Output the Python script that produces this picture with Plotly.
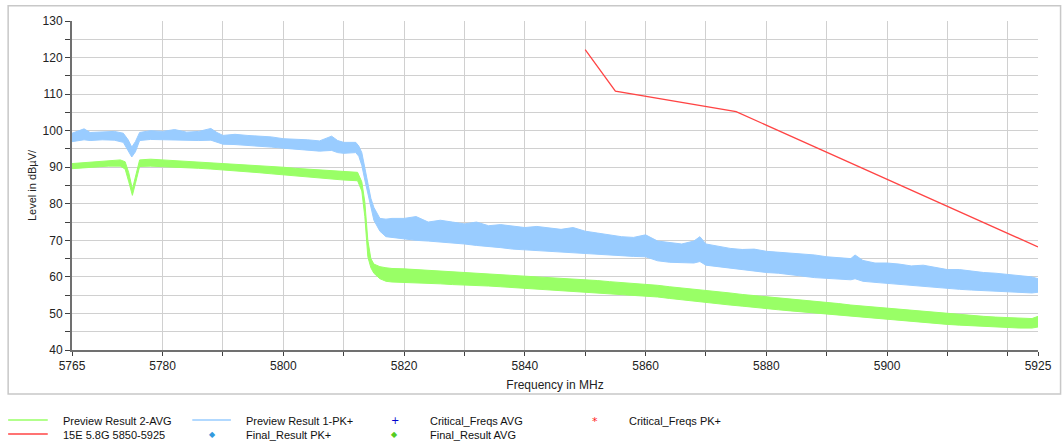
import plotly.graph_objects as go

# ---------------- data ----------------
# Preview Result 1-PK+ : envelope of the noisy peak trace (MHz, dBuV/m)
pk_freq = [5765, 5766, 5767, 5768, 5770, 5772, 5773.5, 5774.3, 5774.9, 5775.5, 5776.2,
           5778, 5780, 5782, 5784, 5786, 5788, 5789, 5790, 5792, 5794, 5796, 5798, 5800,
           5802, 5804, 5806, 5808, 5809, 5810, 5812, 5812.5, 5813, 5813.5, 5814, 5814.5,
           5815, 5816, 5817, 5818, 5820, 5822, 5824, 5826, 5828, 5830, 5832, 5834, 5836,
           5838, 5840, 5842, 5844, 5846, 5848, 5850, 5852, 5854, 5856, 5858, 5860, 5862,
           5864, 5866, 5868, 5869, 5870, 5872, 5874, 5876, 5878, 5880, 5882, 5884, 5886,
           5888, 5890, 5892, 5894, 5894.7, 5896, 5898, 5900, 5902, 5904, 5906, 5908, 5910,
           5912, 5914, 5916, 5918, 5920, 5922, 5924, 5925]
pk_high = [99.3, 99.8, 100.5, 99.5, 99.6, 99.8, 99.3, 97.5, 95.5, 97.0, 99.5,
           100.0, 99.8, 100.3, 99.6, 99.8, 100.6, 99.5, 98.7, 99.0, 98.7, 98.5, 98.3, 97.8,
           97.7, 97.5, 97.2, 98.5, 97.3, 96.8, 96.8, 95.8, 94.0, 89.5, 85.5, 81.5,
           79.0, 76.0, 75.8, 76.0, 76.0, 76.5, 75.0, 75.5, 75.0, 74.5, 75.0, 74.0, 74.3,
           73.8, 73.5, 73.8, 73.5, 73.0, 73.5, 72.5, 72.0, 71.5, 71.0, 70.8, 71.5, 69.8,
           69.5, 69.0, 69.8, 71.0, 69.0, 68.3, 67.8, 67.5, 67.6, 67.0, 66.8, 66.5, 66.2,
           66.0, 65.5, 65.2, 65.0, 66.0, 64.5, 63.8, 63.8, 63.5, 63.0, 63.2, 62.5, 62.0,
           62.0, 61.5, 61.2, 61.0, 60.6, 60.3, 60.0, 59.5]
pk_low = [97.0, 97.3, 97.5, 97.3, 97.5, 97.4, 96.8, 94.5, 92.8, 94.2, 97.3,
          97.6, 97.5, 97.6, 97.3, 97.3, 97.4, 96.8, 96.3, 96.2, 96.0, 95.9, 95.5, 95.2,
          95.0, 94.6, 94.4, 94.6, 94.0, 93.8, 94.0, 93.0, 90.5, 86.5, 82.5, 78.5,
          75.5, 72.5, 71.0, 70.8, 70.3, 70.0, 69.8, 69.6, 69.3, 69.0, 68.6, 68.4, 68.0,
          67.6, 67.4, 67.2, 66.8, 66.6, 66.6, 66.4, 66.2, 66.0, 65.8, 65.6, 65.5, 64.4,
          64.0, 63.9, 63.8, 64.2, 63.2, 62.8, 62.4, 62.0, 61.6, 61.2, 61.0, 60.6, 60.2,
          59.8, 59.6, 59.4, 59.2, 59.5, 58.8, 58.5, 58.2, 57.9, 57.6, 57.4, 57.2, 56.9,
          56.6, 56.4, 56.2, 56.0, 55.9, 55.8, 55.6, 55.8]

# Preview Result 2-AVG : envelope of the noisy average trace
av_freq = [5765, 5767, 5769, 5771, 5773, 5773.8, 5774.4, 5775.0, 5775.5, 5776.2,
           5778, 5780, 5782, 5784, 5786, 5788, 5790, 5792, 5794, 5796, 5798, 5800,
           5802, 5804, 5806, 5808, 5810, 5812.3, 5813, 5813.5, 5814, 5814.5, 5815,
           5816, 5817, 5818, 5820, 5822, 5824, 5826, 5828, 5830, 5832, 5834, 5836,
           5838, 5840, 5842, 5844, 5846, 5848, 5850, 5852, 5854, 5856, 5858, 5860,
           5862, 5864, 5866, 5868, 5870, 5872, 5874, 5876, 5878, 5880, 5882, 5884,
           5886, 5888, 5890, 5892, 5894, 5896, 5898, 5900, 5902, 5904, 5906, 5908,
           5910, 5912, 5914, 5916, 5918, 5920, 5922, 5924, 5925]
av_high = [91.0, 91.3, 91.6, 91.8, 92.0, 91.5, 88.5, 84.0, 87.5, 92.0,
           92.2, 92.0, 91.9, 91.7, 91.6, 91.4, 91.2, 91.0, 90.8, 90.5, 90.3, 90.0,
           89.7, 89.5, 89.2, 89.0, 88.8, 88.6, 86.0, 80.5, 70.0, 65.0, 63.5,
           62.8, 62.5, 62.3, 62.2, 62.0, 61.9, 61.7, 61.5, 61.4, 61.2, 61.0, 60.8,
           60.6, 60.4, 60.2, 60.0, 59.7, 59.4, 59.2, 59.0, 58.7, 58.5, 58.3, 58.1,
           57.7, 57.3, 57.0, 56.6, 56.3, 56.0, 55.6, 55.2, 54.9, 54.6, 54.3, 54.0,
           53.6, 53.3, 53.0, 52.7, 52.3, 52.0, 51.7, 51.4, 51.1, 50.8, 50.5, 50.2,
           49.9, 49.6, 49.4, 49.2, 49.0, 48.8, 48.6, 48.6, 49.2]
av_low = [89.6, 89.9, 90.1, 90.3, 90.3, 89.5, 86.0, 82.3, 85.5, 90.2,
          90.3, 90.2, 90.0, 89.9, 89.7, 89.5, 89.3, 89.0, 88.8, 88.5, 88.2, 87.9,
          87.6, 87.2, 86.9, 86.7, 86.5, 86.3, 83.5, 76.5, 65.5, 62.5, 61.0,
          59.5, 58.8, 58.6, 58.5, 58.4, 58.2, 58.1, 57.9, 57.8, 57.6, 57.5, 57.3,
          57.1, 56.9, 56.7, 56.5, 56.3, 56.1, 55.9, 55.7, 55.5, 55.3, 55.1, 54.9,
          54.5, 54.1, 53.7, 53.3, 53.0, 52.7, 52.3, 52.0, 51.6, 51.3, 51.0, 50.7,
          50.4, 50.1, 49.8, 49.5, 49.2, 48.9, 48.6, 48.4, 48.1, 47.8, 47.5, 47.2,
          47.0, 46.8, 46.6, 46.4, 46.2, 46.1, 46.0, 46.0, 46.3]

# Limit line 15E 5.8G 5850-5925
lim_freq = [5850, 5855, 5875, 5925]
lim_level = [122.2, 110.8, 105.2, 68.2]

x_grid = [5765, 5780, 5790, 5800, 5810, 5820, 5830, 5840, 5850, 5860, 5870, 5880,
          5890, 5900, 5910, 5920, 5925]
x_labels = ["5765", "5780", "", "5800", "", "5820", "", "5840", "", "5860", "",
            "5880", "", "5900", "", "", "5925"]
y_grid = list(range(40, 131, 5))
y_labels = [str(v) if v % 10 == 0 else "" for v in y_grid]

# ---------------- styling ----------------
FONT = "Liberation Sans, Arial, sans-serif"
BLUE = "#99ccff"
GREEN = "#99ff66"
RED = "#ff4444"

W, H = 1064, 443
L, R, T, B = 71.5, 1047.2, 21, 350  # plot area in px


def px(x):
    return (x - L) / (R - L)


def py(y):
    return (B - y) / (B - T)


fig = go.Figure()

# peak trace as filled envelope
fig.add_trace(go.Scatter(x=pk_freq, y=pk_low, mode="lines", line=dict(color=BLUE, width=1),
                         showlegend=False, hoverinfo="skip"))
fig.add_trace(go.Scatter(x=pk_freq, y=pk_high, mode="lines", line=dict(color=BLUE, width=1),
                         fill="tonexty", fillcolor=BLUE, name="Preview Result 1-PK+",
                         showlegend=False))
# average trace as filled envelope
fig.add_trace(go.Scatter(x=av_freq, y=av_low, mode="lines", line=dict(color=GREEN, width=1),
                         showlegend=False, hoverinfo="skip"))
fig.add_trace(go.Scatter(x=av_freq, y=av_high, mode="lines", line=dict(color=GREEN, width=1),
                         fill="tonexty", fillcolor=GREEN, name="Preview Result 2-AVG",
                         showlegend=False))
# limit line
fig.add_trace(go.Scatter(x=lim_freq, y=lim_level, mode="lines", line=dict(color=RED, width=1.3),
                         name="15E 5.8G 5850-5925", showlegend=False))
# empty result series (no points in reference)
for nm in ["Critical_Freqs AVG", "Critical_Freqs PK+", "Final_Result PK+", "Final_Result AVG"]:
    fig.add_trace(go.Scatter(x=[], y=[], mode="markers", name=nm, showlegend=False))

shapes = []
annotations = []

# outer frame
shapes.append(dict(type="rect", xref="paper", yref="paper",
                   x0=px(7), x1=px(1070), y0=py(394), y1=py(5.7),
                   line=dict(color="#c8c8c8", width=1.5), layer="below"))

# manual legend
legend_font = dict(family=FONT, size=11, color="#111")
row1, row2 = 421, 435


def leg_line(x0, x1, y, color):
    shapes.append(dict(type="line", xref="paper", yref="paper",
                       x0=px(x0), x1=px(x1), y0=py(y), y1=py(y),
                       line=dict(color=color, width=1.5)))


def leg_text(x, y, text):
    annotations.append(dict(xref="paper", yref="paper", x=px(x), y=py(y), text=text,
                            showarrow=False, xanchor="left", yanchor="middle",
                            font=legend_font))


def leg_mark(x, y, sym, color, size):
    annotations.append(dict(xref="paper", yref="paper", x=px(x), y=py(y), text=sym,
                            showarrow=False, xanchor="center", yanchor="middle",
                            font=dict(family="DejaVu Sans", size=size, color=color)))


leg_line(7, 47, row1 - 1, GREEN)
leg_text(60, row1, "Preview Result 2-AVG")
leg_line(193, 232, row1 - 1, BLUE)
leg_text(245, row1, "Preview Result 1-PK+")
leg_mark(398, row1 - 1, "+", "#0000cc", 10)
leg_text(431, row1, "Critical_Freqs AVG")
leg_mark(600, row1, "*", "#ff2020", 11)
leg_text(632, row1, "Critical_Freqs PK+")

leg_line(7, 47, row2 - 1, RED)
leg_text(60, row2, "15E 5.8G 5850-5925")
leg_mark(213, row2 - 1, "◆", "#3399dd", 8)
leg_text(245, row2, "Final_Result PK+")
leg_mark(397, row2 - 1, "◆", "#55cc22", 8)
leg_text(431, row2, "Final_Result AVG")

fig.update_layout(
    width=W, height=H,
    margin=dict(l=L, r=W - R, t=T, b=H - B),
    paper_bgcolor="white", plot_bgcolor="white",
    font=dict(family=FONT, size=12, color="#222"),
    shapes=shapes, annotations=annotations,
    showlegend=False,
)
fig.update_xaxes(
    range=[5765, 5925], tickmode="array", tickvals=x_grid, ticktext=x_labels,
    showgrid=True, gridcolor="#d0d0d0", gridwidth=1,
    showline=True, linecolor="#707070", linewidth=2,
    ticks="outside", ticklen=4, tickcolor="#404040",
    tickfont=dict(family=FONT, size=12, color="#222"),
    title=dict(text="Frequency in MHz", font=dict(family=FONT, size=12, color="#222"), standoff=8),
    zeroline=False,
)
fig.update_yaxes(
    range=[40, 130], tickmode="array", tickvals=y_grid, ticktext=y_labels,
    showgrid=True, gridcolor="#d0d0d0", gridwidth=1,
    showline=True, linecolor="#707070", linewidth=2,
    ticks="outside", ticklen=5, tickcolor="#404040",
    tickfont=dict(family=FONT, size=12, color="#222"),
    title=dict(text="Level in dBµV/", font=dict(family=FONT, size=11, color="#222"), standoff=4),
    zeroline=False,
)

fig.write_html("out.html", config={"displayModeBar": False})

# remove the browser's default page margin so the figure sits at (0, 0)
with open("out.html", encoding="utf-8") as fh:
    html = fh.read()
html = html.replace("<head>", "<head><style>html,body{margin:0;padding:0;overflow:hidden;}</style>", 1)
with open("out.html", "w", encoding="utf-8") as fh:
    fh.write(html)
